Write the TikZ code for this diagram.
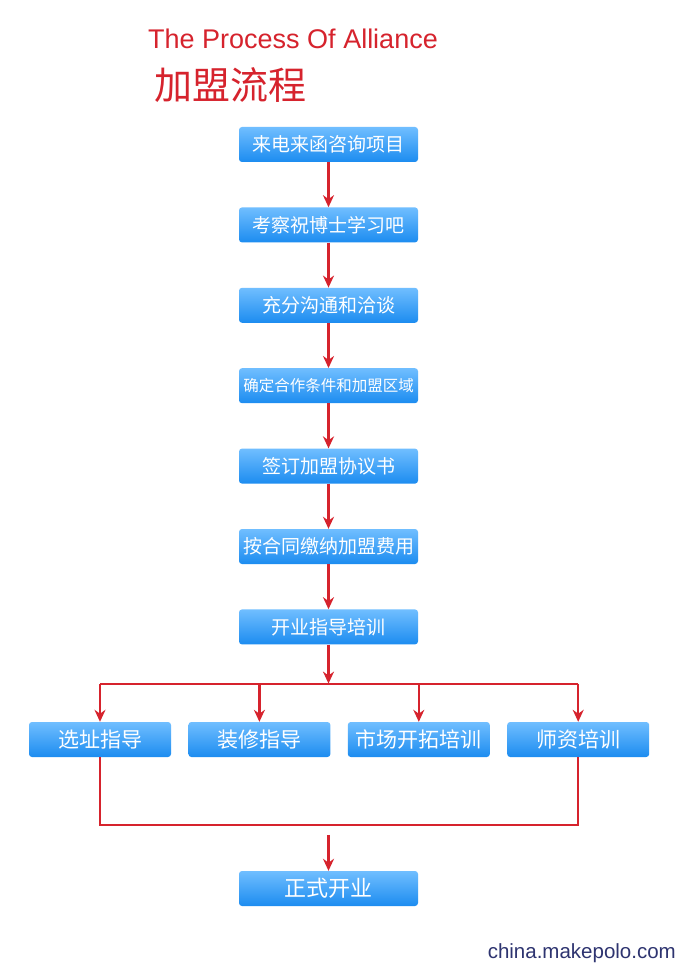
\documentclass[tikz,border=0pt]{standalone}
\usepackage{fontspec}
\setmainfont{Liberation Sans}
\newfontfamily\cjk{Noto Sans CJK SC}
\usetikzlibrary{positioning,arrows.meta}
\definecolor{flowred}{RGB}{214,35,45}
\definecolor{boxtop}{RGB}{112,190,255}
\definecolor{boxbot}{RGB}{28,140,240}
\definecolor{urlblue}{RGB}{46,52,112}
\begin{document}
\begin{tikzpicture}[x=1pt, y=1pt, node distance=45pt,
  stepbox/.style={rectangle, rounded corners=3pt, top color=boxtop, bottom color=boxbot, text=white, font=\cjk\fontsize{19}{19}\selectfont, minimum width=179pt, minimum height=35pt, inner sep=0pt},
  subbox/.style={stepbox, minimum width=142pt, font=\cjk\fontsize{21}{21}\selectfont},
  flow/.style={draw=flowred, line width=2.2pt, -{Stealth[length=12pt,width=11pt]}},
  link/.style={draw=flowred, line width=2.2pt}]
\fill [white] (0,0) rectangle (680,-965);
\useasboundingbox (0,0) rectangle (680,-965);
\node [text=flowred, font=\fontsize{27}{27}\selectfont, anchor=base west, inner sep=0pt] (entitle) at (148,-49) {The Process Of Alliance};
\node [text=flowred, font=\cjk\fontsize{38}{38}\selectfont, anchor=west, inner sep=0pt] (cntitle) at (154,-85) {加盟流程};
\node [stepbox] (call) at (328.5,-144.5) {来电来函咨询项目};
\node [stepbox, below=of call] (visit) {考察祝博士学习吧};
\node [stepbox, below=of visit] (talk) {充分沟通和洽谈};
\node [stepbox, below=of talk, font=\cjk\fontsize{15.5}{15.5}\selectfont] (terms) {确定合作条件和加盟区域};
\node [stepbox, below=of terms] (sign) {签订加盟协议书};
\node [stepbox, below=of sign] (pay) {按合同缴纳加盟费用};
\node [stepbox, below=of pay] (train) {开业指导培训};
\node [subbox] (site) at (100,-739.5) {选址指导};
\node [subbox, right=17pt of site] (decor) {装修指导};
\node [subbox, right=17pt of decor] (market) {市场开拓培训};
\node [subbox, right=17pt of market] (teacher) {师资培训};
\node [stepbox, font=\cjk\fontsize{22}{22}\selectfont] (open) at (328.5,-888.5) {正式开业};
\node [text=urlblue, font=\fontsize{20.5}{20.5}\selectfont, anchor=east, inner sep=0pt] (weblabel) at (676,-953) {china.makepolo.com};
\foreach \a/\b in {call/visit, visit/talk, talk/terms, terms/sign, sign/pay, pay/train}
  \draw [flow] (\a) -- (\b);
\path (train.south) ++(0,-39) coordinate (split);
\draw [flow] (train) -- (split);
\draw [link] (site.north |- split) -- (teacher.north |- split);
\foreach \n in {site, decor, market, teacher}
  \draw [flow] (\n.north |- split) -- (\n);
\path (site.south) ++(0,-68) coordinate (join);
\draw [link] (site.south) |- (join) -| (teacher.south);
\path (open.north) ++(0,36) coordinate (gap);
\draw [flow] (gap) -- (open);
\end{tikzpicture}
\end{document}
